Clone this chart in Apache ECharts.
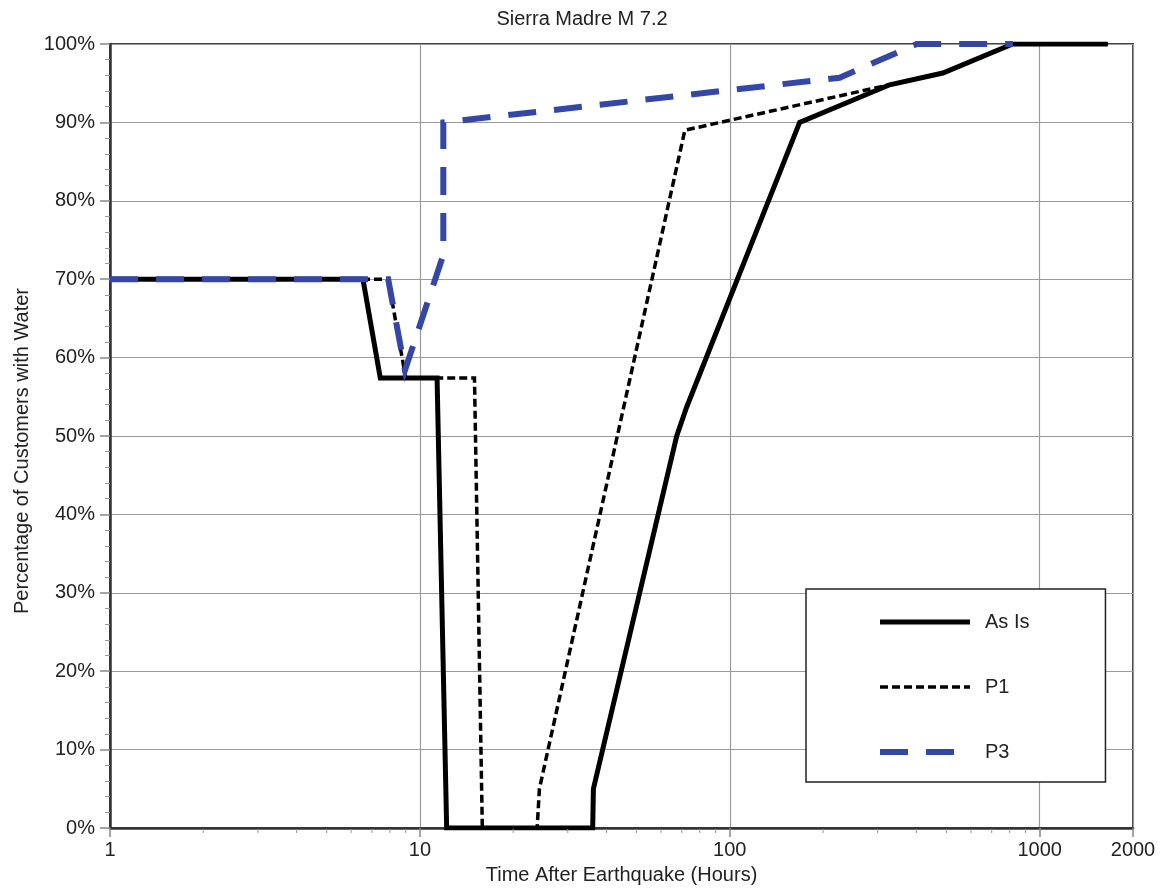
<!DOCTYPE html>
<html>
<head>
<meta charset="utf-8">
<script src="https://cdn.jsdelivr.net/npm/echarts@6/dist/echarts.min.js"></script>
<style>
  html, body { margin: 0; padding: 0; background: #fff; }
  #chart { width: 1164px; height: 892px; }
</style>
</head>
<body>
<div id="chart"></div>
<script>
// Hours after the earthquake (log axis) and percentage of customers with water
const asIsHours   = [1, 6.55, 7.45, 11.36, 12.2, 36.1, 36.3, 67.4, 72.6, 168, 328, 487, 818, 1657];
const asIsPct     = [70, 70, 57.4, 57.4, 0, 0, 5, 50, 53.7, 90, 94.8, 96.3, 100, 100];

const p1Hours     = [1, 7.9, 9.0, 15.0, 15.9, 23.9, 24.3, 71.6, 328, 487, 818, 1657];
const p1Pct       = [70, 70, 57.4, 57.4, 0, 0, 5, 89, 94.8, 96.3, 100, 100];

const p3Hours     = [1, 7.9, 8.95, 11.9, 11.9, 226, 401, 820];
const p3Pct       = [70, 70, 58.4, 73.1, 90, 95.7, 100, 100];

const seriesNames = ['As Is', 'P1', 'P3'];
const xMinorTicks = [2, 3, 4, 5, 6, 7, 8, 9, 20, 30, 40, 50, 60, 70, 80, 90, 200, 300, 400, 500, 600, 700, 800, 900];

const pairs = (xs, ys) => xs.map((x, i) => [x, ys[i]]);

const FONT = 'Liberation Sans, Arial, Helvetica, sans-serif';
const TEXT = '#222';
const BLUE = '#3446a6';

const chart = echarts.init(document.getElementById('chart'), null, { renderer: 'canvas' });

chart.setOption({
  animation: false,
  backgroundColor: '#fff',
  textStyle: { fontFamily: FONT, color: TEXT },
  title: {
    text: 'Sierra Madre M 7.2',
    left: 'center',
    top: 4,
    textStyle: { fontFamily: FONT, fontSize: 20, fontWeight: 'normal', color: TEXT }
  },
  grid: {
    left: 110, right: 31, top: 44, bottom: 64,
    show: true, borderColor: '#444', borderWidth: 2, backgroundColor: 'transparent'
  },
  legend: {
    orient: 'vertical',
    left: 806,
    top: 589,
    padding: [23, 76, 20, 71],
    itemGap: 45,
    itemWidth: 90,
    itemHeight: 20,
    backgroundColor: '#fff',
    borderColor: '#222',
    borderWidth: 1.5,
    borderRadius: 0,
    textStyle: { fontFamily: FONT, fontSize: 20, color: TEXT, padding: [0, 0, 0, 10] },
    // line-only legend keys: hide the marker that line series add to the key
    itemStyle: { opacity: 0, borderWidth: 0 },
    lineStyle: { width: 'inherit', type: 'inherit', color: 'inherit', opacity: 1 },
    data: seriesNames
  },
  xAxis: {
    type: 'log',
    logBase: 10,
    min: 1,
    max: 2000,
    name: 'Time After Earthquake (Hours)',
    nameLocation: 'middle',
    nameGap: 37,
    nameTextStyle: { fontFamily: FONT, fontSize: 20, color: TEXT },
    axisLine: { show: true, onZero: false, lineStyle: { color: '#333', width: 2.5 } },
    axisTick: { show: true, length: 9, lineStyle: { color: '#888', width: 1.5 } },
    axisLabel: {
      fontFamily: FONT, fontSize: 20, color: TEXT, margin: 12,
      formatter: v => String(Math.round(v))
    },
    splitLine: { show: true, lineStyle: { color: '#9a9a9a', width: 1.2 } }
  },
  yAxis: {
    type: 'value',
    min: 0,
    max: 100,
    interval: 10,
    name: 'Percentage of Customers with Water',
    nameLocation: 'middle',
    nameGap: 78,
    nameTextStyle: { fontFamily: FONT, fontSize: 20, color: TEXT, padding: [0, 30, 0, 0] },
    axisLine: { show: true, lineStyle: { color: '#333', width: 2.5 } },
    axisTick: { show: true, length: 10, lineStyle: { color: '#888', width: 1.5 } },
    minorTick: { show: true, splitNumber: 5, length: 5, lineStyle: { color: '#999', width: 1 } },
    axisLabel: { fontFamily: FONT, fontSize: 20, color: TEXT, margin: 15, formatter: '{value}%' },
    splitLine: { show: true, lineStyle: { color: '#9a9a9a', width: 1.2 } }
  },
  series: [
    {
      name: 'As Is',
      type: 'line',
      data: pairs(asIsHours, asIsPct),
      symbol: 'none',
      z: 3,
      lineStyle: { color: '#000', width: 5, type: 'solid', cap: 'butt', join: 'miter' },
      itemStyle: { color: '#000' }
    },
    {
      name: 'P1',
      type: 'line',
      data: pairs(p1Hours, p1Pct),
      symbol: 'none',
      z: 4,
      lineStyle: { color: '#000', width: 3.5, type: [8, 4], cap: 'butt', join: 'miter' },
      itemStyle: { color: '#000' }
    },
    {
      name: 'P3',
      type: 'line',
      data: pairs(p3Hours, p3Pct),
      symbol: 'none',
      z: 5,
      lineStyle: { color: BLUE, width: 6, type: [28, 18], cap: 'butt', join: 'miter' },
      itemStyle: { color: BLUE }
    },
    {
      // short minor ticks at 2..9 of every decade along the time axis
      type: 'custom',
      silent: true,
      clip: false,
      z: 6,
      data: xMinorTicks.map(v => [v, 0]),
      renderItem: (params, api) => {
        const p = api.coord([api.value(0), 0]);
        return {
          type: 'line',
          shape: { x1: p[0], y1: p[1] + 1, x2: p[0], y2: p[1] + 5 },
          style: { stroke: '#999', lineWidth: 1 }
        };
      }
    }
  ]
});
</script>
</body>
</html>
